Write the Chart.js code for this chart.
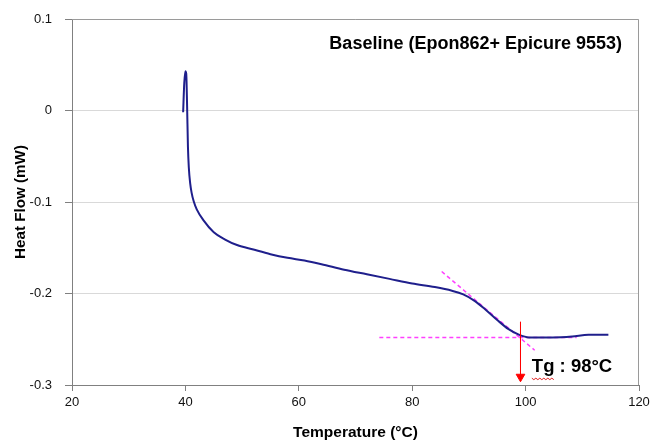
<!DOCTYPE html>
<html>
<head>
<meta charset="utf-8">
<script src="https://cdn.jsdelivr.net/npm/chart.js@4.4.1/dist/chart.umd.min.js"></script>
<style>
  html, body { margin: 0; padding: 0; background: #fff; }
  #wrap { width: 650px; height: 442px; }
</style>
</head>
<body>
<div id="wrap"><canvas id="dscChart" width="650" height="442"></canvas></div>
<script>
// DSC curve
const tempC = [39.6, 39.8, 40.0, 40.15, 40.3, 40.45, 40.6, 40.85, 41.1, 41.45, 42.0, 43.2, 45.0, 47.0,
  49.1, 52.0, 55.0, 58.0, 61.0, 64.0, 68.0, 72.0, 76.0, 80.0, 84.0, 87.0, 89.0, 91.0, 93.0, 95.0,
  97.0, 98.8, 100.6, 104.7, 108.2, 111.1, 114.6];
const heatFlow = [-0.002, 0.030, 0.043, 0.040, 0.005, -0.040, -0.062, -0.080, -0.090, -0.099, -0.108, -0.120, -0.133, -0.141,
  -0.147, -0.152, -0.157, -0.161, -0.164, -0.168, -0.174, -0.179, -0.184, -0.189, -0.193, -0.197, -0.201, -0.208, -0.218, -0.229,
  -0.239, -0.245, -0.248, -0.248, -0.247, -0.245, -0.245];

// tangent construction lines
const slopeLineT = [85.2, 101.6];
const slopeLineHF = [-0.176, -0.262];
const baseLineT = [74.2, 109.0];
const baseLineHF = [-0.248, -0.248];

// Tg marker arrow
const arrowT = [99.1, 99.1];
const arrowHF = [-0.231, -0.291];
const tgLabel = 'Tg : 98°C';
const tgLabelAt = [101.1, -0.2805];

const chartTitle = 'Baseline (Epon862+ Epicure 9553)';
const xTicks = [20, 40, 60, 80, 100, 120];
const yTicks = [0.1, 0, -0.1, -0.2, -0.3];
const yTickLabels = ['0.1', '0', '-0.1', '-0.2', '-0.3'];

const FONT = '"Liberation Sans", Arial, sans-serif';

function toPoints(xs, ys) {
    return xs.map((x, i) => ({ x: x, y: ys[i] }));
}

// рамка области построения, заголовок и подпись Tg
const decorPlugin = {
    id: 'decor',
    beforeDatasetsDraw(chart) {
        const a = chart.chartArea;
        const ctx = chart.ctx;
        ctx.save();
        ctx.strokeStyle = '#9a9a9a';
        ctx.lineWidth = 1;
        ctx.beginPath();
        ctx.moveTo(a.left, a.top + 0.5);
        ctx.lineTo(a.right - 0.5, a.top + 0.5);
        ctx.lineTo(a.right - 0.5, a.bottom);
        ctx.stroke();
        ctx.restore();
    },
    afterDatasetsDraw(chart) {
        const a = chart.chartArea;
        const ctx = chart.ctx;
        const xs = chart.scales.x, ys = chart.scales.y;
        ctx.save();
        ctx.fillStyle = '#000';
        ctx.font = 'bold 18px ' + FONT;
        ctx.textAlign = 'right';
        ctx.textBaseline = 'alphabetic';
        ctx.fillText(chartTitle, a.right - 17, a.top + 30);

        const tx = xs.getPixelForValue(tgLabelAt[0]);
        const ty = ys.getPixelForValue(tgLabelAt[1]);
        ctx.font = 'bold 18.5px ' + FONT;
        ctx.textAlign = 'left';
        ctx.textBaseline = 'middle';
        ctx.fillText(tgLabel, tx, ty);

        // красная волнистая линия под "Tg"
        const w = ctx.measureText('Tg').width;
        const by = ty + 11;
        ctx.strokeStyle = '#e02020';
        ctx.lineWidth = 1;
        ctx.beginPath();
        for (let px = 0; px <= w; px += 2) {
            const py = by + ((px / 2) % 2 === 0 ? 0 : 1.5);
            if (px === 0) ctx.moveTo(tx + px, py); else ctx.lineTo(tx + px, py);
        }
        ctx.stroke();
        ctx.restore();
    }
};

const ctx = document.getElementById('dscChart').getContext('2d');
new Chart(ctx, {
    type: 'scatter',
    data: {
        datasets: [{
            label: 'Baseline',
            data: toPoints(tempC, heatFlow),
            showLine: true,
            borderColor: '#1f1f8c',
            borderWidth: 2,
            pointRadius: 0,
            cubicInterpolationMode: 'monotone',
            order: 1
        }, {
            label: 'slope tangent',
            data: toPoints(slopeLineT, slopeLineHF),
            showLine: true,
            borderColor: '#ff40ff',
            borderWidth: 1.5,
            borderDash: [4, 3],
            pointRadius: 0,
            order: 2
        }, {
            label: 'base tangent',
            data: toPoints(baseLineT, baseLineHF),
            showLine: true,
            borderColor: '#ff40ff',
            borderWidth: 1.5,
            borderDash: [4, 3],
            pointRadius: 0,
            order: 2
        }, {
            label: 'Tg',
            data: toPoints(arrowT, arrowHF),
            showLine: true,
            borderColor: '#ff0000',
            backgroundColor: '#ff0000',
            borderWidth: 1,
            pointStyle: 'triangle',
            pointRotation: 180,
            pointRadius: [0, 5],
            pointBorderWidth: 1,
            order: 0
        }]
    },
    options: {
        responsive: false,
        animation: false,
        layout: { padding: { top: 19, right: 11, left: 0, bottom: 0 } },
        plugins: {
            legend: { display: false },
            tooltip: { enabled: false },
            title: { display: false }
        },
        scales: {
            x: {
                type: 'linear',
                min: 20,
                max: 120,
                afterBuildTicks: scale => { scale.ticks = xTicks.map(v => ({ value: v })); },
                ticks: { color: '#111', font: { family: FONT, size: 13 }, padding: 4, maxRotation: 0 },
                grid: { drawOnChartArea: false, tickLength: 6, color: '#808080' },
                border: { color: '#808080' },
                title: {
                    display: true,
                    text: 'Temperature (°C)',
                    color: '#000',
                    font: { family: FONT, size: 15.5, weight: 'bold' },
                    padding: { top: 4, bottom: 0 }
                },
                afterFit: scale => {
                    scale.height = 57;
                    scale.paddingLeft = 0;
                    scale.paddingRight = 0;
                }
            },
            y: {
                type: 'linear',
                min: -0.3,
                max: 0.1,
                afterBuildTicks: scale => { scale.ticks = yTicks.map(v => ({ value: v })); },
                ticks: {
                    color: '#111',
                    font: { family: FONT, size: 13 },
                    padding: 13,
                    callback: (v) => yTickLabels[yTicks.findIndex(t => Math.abs(t - v) < 1e-9)]
                },
                grid: { color: '#d9d9d9', tickLength: 7, tickColor: '#808080' },
                border: { color: '#808080' },
                title: {
                    display: true,
                    text: 'Heat Flow (mW)',
                    color: '#000',
                    font: { family: FONT, size: 15.2, weight: 'bold' },
                    padding: { top: 12, bottom: 0 }
                },
                afterFit: scale => {
                    scale.width = 72;
                    scale.paddingTop = 0;
                    scale.paddingBottom = 0;
                }
            }
        }
    },
    plugins: [decorPlugin]
});
</script>
</body>
</html>
